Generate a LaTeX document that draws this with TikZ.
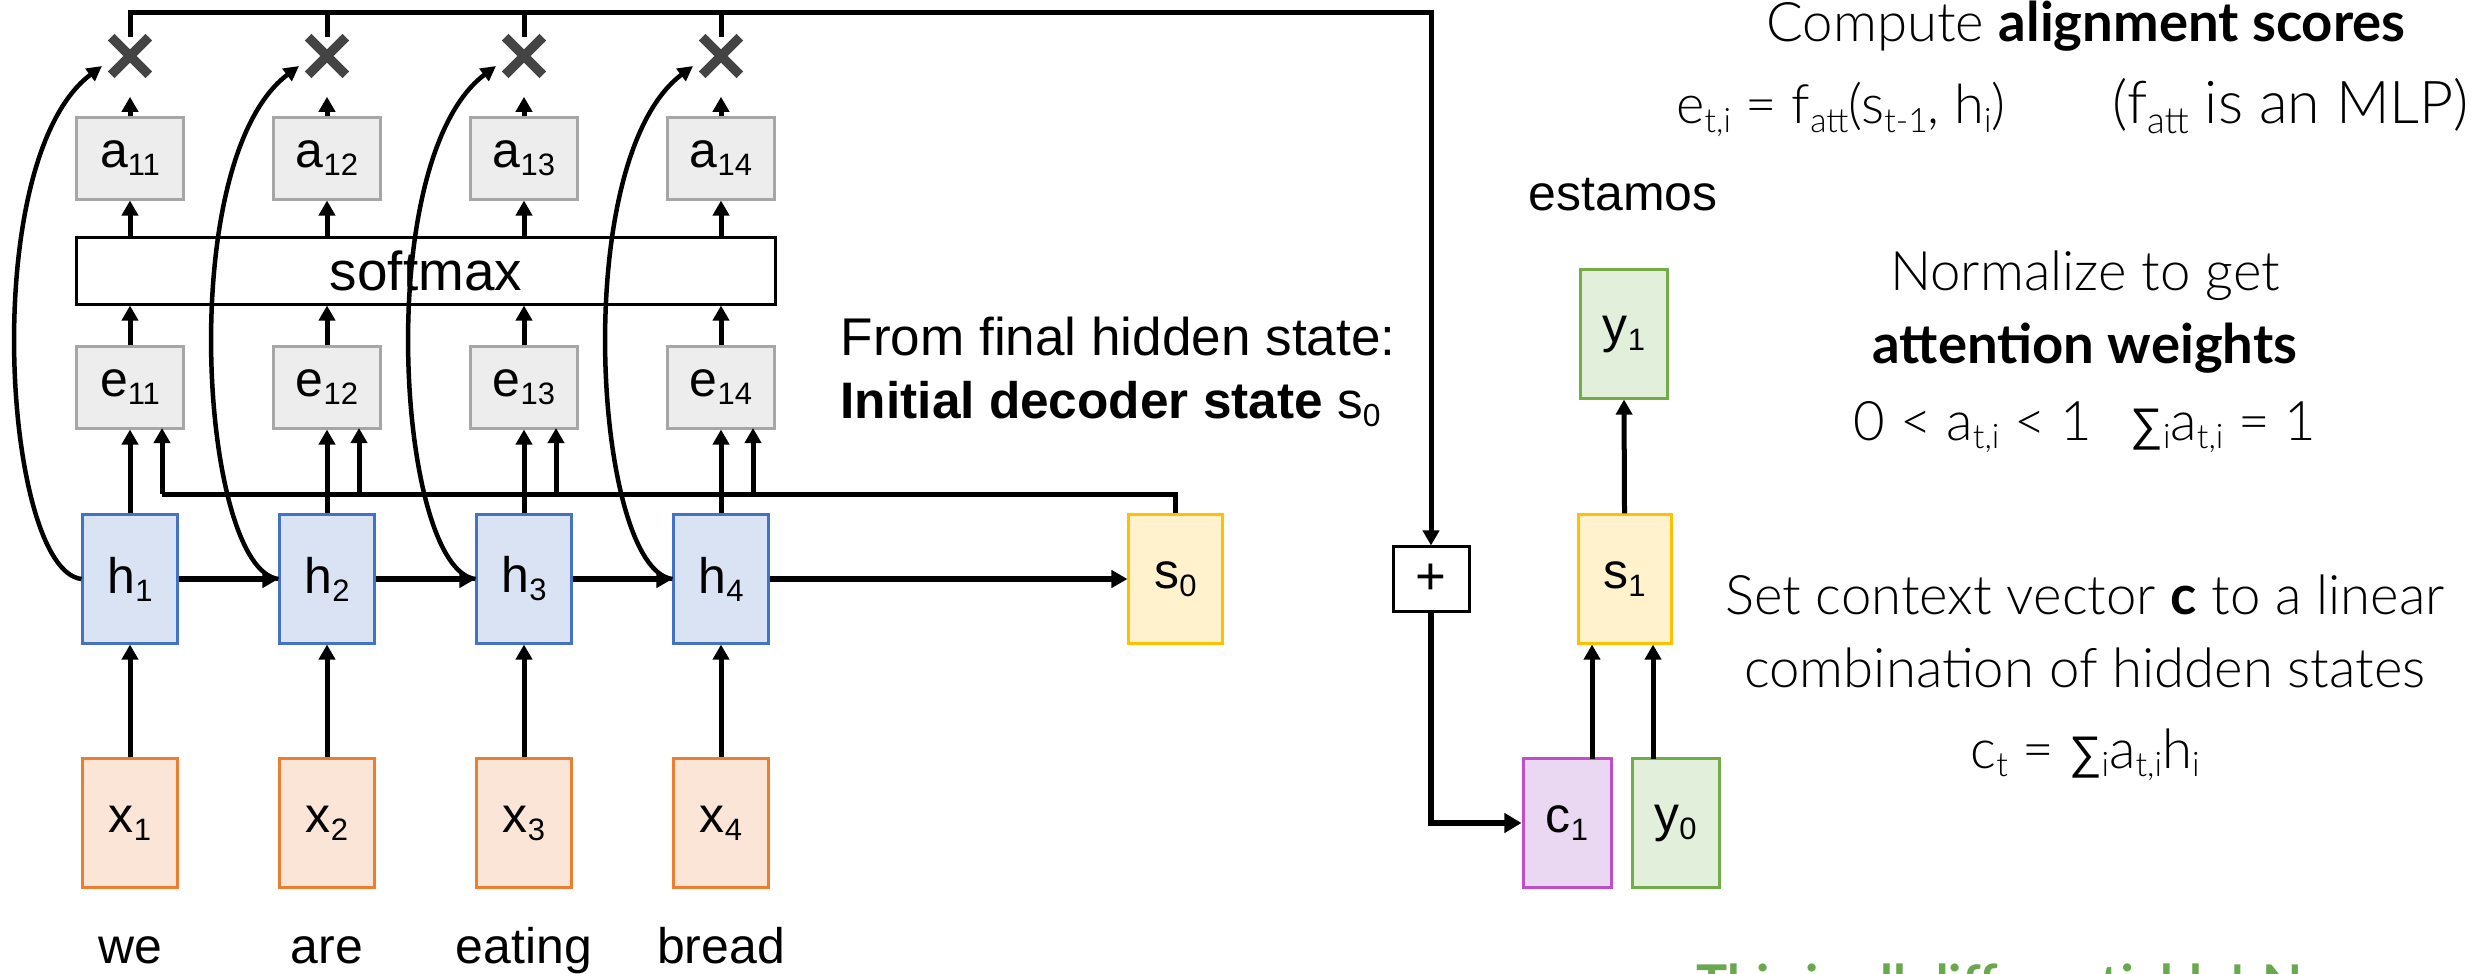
\documentclass[tikz,border=0pt]{standalone}
\usepackage{fontspec}
\usepackage{graphicx}
\setmainfont{Liberation Sans}
\newfontfamily\lightfont{Lato}[UprightFont={* Light},BoldFont={* Bold}]
\newfontfamily\symfont{Liberation Sans}
\usetikzlibrary{arrows.meta,calc,shapes.misc}
\definecolor{grayfill}{HTML}{EDEDED}
\definecolor{grayline}{HTML}{A6A6A6}
\definecolor{hfill}{HTML}{DAE3F3}
\definecolor{hline}{HTML}{4472C4}
\definecolor{xfill}{HTML}{FBE5D6}
\definecolor{xline}{HTML}{ED7D31}
\definecolor{sfill}{HTML}{FFF2CC}
\definecolor{sline}{HTML}{FFC000}
\definecolor{cfill}{HTML}{EAD8F3}
\definecolor{cline}{HTML}{C04ECA}
\definecolor{yfill}{HTML}{E2EFDA}
\definecolor{yline}{HTML}{70AD47}
\definecolor{crossc}{HTML}{444444}
\definecolor{greentxt}{HTML}{6AA84F}
\newcommand\bxfont{\fontsize{14.2}{17}\selectfont}
\newcommand\rtfont{\lightfont\fontsize{15.5}{18}\selectfont}
\newcommand\eqfont{\lightfont\fontsize{15.4}{19}\selectfont}
\newcommand\eqbfont{\lightfont\fontsize{16.8}{19}\selectfont}
\newcommand\sbs[1]{\raisebox{-0.16em}{\scalebox{0.62}{#1}}}
\newcommand\sumsym{{\symfont\fontsize{13}{16}\selectfont ∑}}
\begin{document}
\begin{tikzpicture}[x=0.01cm,y=-0.01cm,
  base/.style={rectangle, line width=0.03cm, inner sep=0pt, font=\bxfont},
  gbox/.style={base, draw=grayline, fill=grayfill, minimum width=1.07cm, minimum height=0.81cm},
  hbox/.style={base, draw=hline, fill=hfill, minimum width=0.94cm, minimum height=1.28cm},
  xbox/.style={base, draw=xline, fill=xfill, minimum width=0.94cm, minimum height=1.28cm},
  sbox/.style={base, draw=sline, fill=sfill, minimum width=0.93cm, minimum height=1.28cm},
  ybox/.style={base, draw=yline, fill=yfill, minimum width=0.87cm, minimum height=1.28cm},
  cbox/.style={base, draw=cline, fill=cfill, minimum width=0.88cm, minimum height=1.28cm},
  crossnode/.style={cross out, draw=crossc, line width=0.095cm, minimum size=0.28cm, inner sep=0pt},
  conn/.style={line width=0.05cm},
  arr/.style={conn, -{Triangle[length=0.15cm,width=0.16cm]}},
  carr/.style={line width=0.045cm, -{Triangle[length=0.15cm,width=0.15cm]}},
  harr/.style={line width=0.06cm, -{Triangle[length=0.16cm,width=0.17cm]}},
  txt/.style={font=\rtfont, inner sep=0pt, anchor=base},
  word/.style={font=\bxfont, inner sep=0pt, anchor=base},
]
\fill[white] (0,0) rectangle (2483,973);
\path[use as bounding box] (0,0) rectangle (2483,973);

% encoder columns
\foreach \i/\cx/\w in {1/130/we, 2/327/are, 3/524/eating, 4/721/bread} {
  \node[crossnode] (m\i) at (\cx,56) {};
  \node[gbox] (a\i) at (\cx,158.5) {a\sbs{1\i}};
  \node[gbox] (e\i) at (\cx,387.5) {e\sbs{1\i}};
  \node[hbox] (h\i) at (\cx,579) {h\sbs{\i}};
  \node[xbox] (x\i) at (\cx,823) {x\sbs{\i}};
  \node[word] (w\i) at (\cx,963) {\w};
  \coordinate (ce\i) at (\cx-28,66);
  \coordinate (sa\i) at (\cx+32,428);
}
\node[base, draw=black, fill=white, minimum width=6.98cm, minimum height=0.66cm, font=\fontsize{15.6}{18}\selectfont] (sm) at (426,271) {softmax};
\node[sbox] (s0) at (1175.5,579) {s\sbs{0}};
\node[base, draw=black, fill=white, minimum width=0.76cm, minimum height=0.64cm, font=\fontsize{15}{17}\selectfont] (plus) at (1431,579) {+};
\node[sbox] (s1) at (1624.5,579) {s\sbs{1}};
\node[ybox] (y1) at (1624,334) {y\sbs{1}};
\node[cbox] (cx) at (1567,823) {c\sbs{1}};
\node[ybox] (y0) at (1675.5,823) {y\sbs{0}};

\coordinate (tr) at (1431,13);
\coordinate (sl) at (162,494);
\coordinate (cA) at (1592,759);
\coordinate (yA) at (1653,759);

% top line from crosses to plus
\draw[arr] (m1.north) |- (tr) -- (plus.north);
\foreach \i in {2,3,4} { \draw[conn] (m\i.north) -- (m\i.north |- tr); }

% vertical arrows per column
\foreach \i in {1,2,3,4} {
  \draw[arr, shorten >=0.22cm] (a\i.north) -- (m\i.south);
  \draw[arr] (a\i.south |- sm.north) -- (a\i.south);
  \draw[arr] (e\i.north) -- (e\i.north |- sm.south);
  \draw[arr] (h\i.north) -- (e\i.south);
  \draw[arr] (x\i.north) -- (h\i.south);
  \draw[arr] (sa\i |- sl) -- (sa\i);
  \draw[carr] (h\i.west) .. controls +(-78,-9) and +(-125,94) .. (ce\i);
}
% s0 feedback line
\draw[conn] (s0.north) |- (sl);

% recurrent arrows
\draw[harr] (h1.east) -- (h2.west);
\draw[harr] (h2.east) -- (h3.west);
\draw[harr] (h3.east) -- (h4.west);
\draw[harr] (h4.east) -- (s0.west);

% decoder
\draw[line width=0.065cm, -{Triangle[length=0.17cm,width=0.19cm]}] (plus.south) |- (cx.west);
\draw[arr] (cA) -- (cA |- s1.south);
\draw[arr] (yA) -- (yA |- s1.south);
\draw[arr] (s1.north) -- (y1.south);

% texts
\node[word] (est) at (1623,210) {estamos};
\node[txt, font=\fontsize{15.1}{18}\selectfont, anchor=base west] (f1) at (840,355) {From final hidden state:};
\node[txt, font=\fontsize{14.6}{18}\selectfont, anchor=base west] (f2) at (840,418) {\textbf{Initial decoder state} s\sbs{0}};

\node[txt] (t1) at (2086,42) {Compute \textbf{alignment scores}};
\node[txt, font=\eqfont] (t2) at (1841,124) {e\sbs{t,i} = f\sbs{att}(s\sbs{t-1}, h\sbs{i})};
\node[txt, font=\eqbfont] (t3) at (2291,124) {(f\sbs{att} is an MLP)};
\node[txt] (t4) at (2085,290) {Normalize to get};
\node[txt] (t5) at (2085,363) {\textbf{attention weights}};
\node[txt] (t6) at (2085,440) {0 < a\sbs{t,i} < 1\hspace{0.7em}\sumsym\sbs{i}a\sbs{t,i} = 1};
\node[txt] (t7) at (2085,614) {Set context vector \textbf{c} to a linear};
\node[txt] (t8) at (2085,687) {combination of hidden states};
\node[txt] (t9) at (2085,768) {c\sbs{t} = \sumsym\sbs{i}a\sbs{t,i}h\sbs{i}};
\node[txt, anchor=base west, text=greentxt, font=\lightfont\fontsize{14.8}{18}\selectfont\bfseries] (gr) at (1696,1002) {This is all differentiable! No};
\end{tikzpicture}
\end{document}
